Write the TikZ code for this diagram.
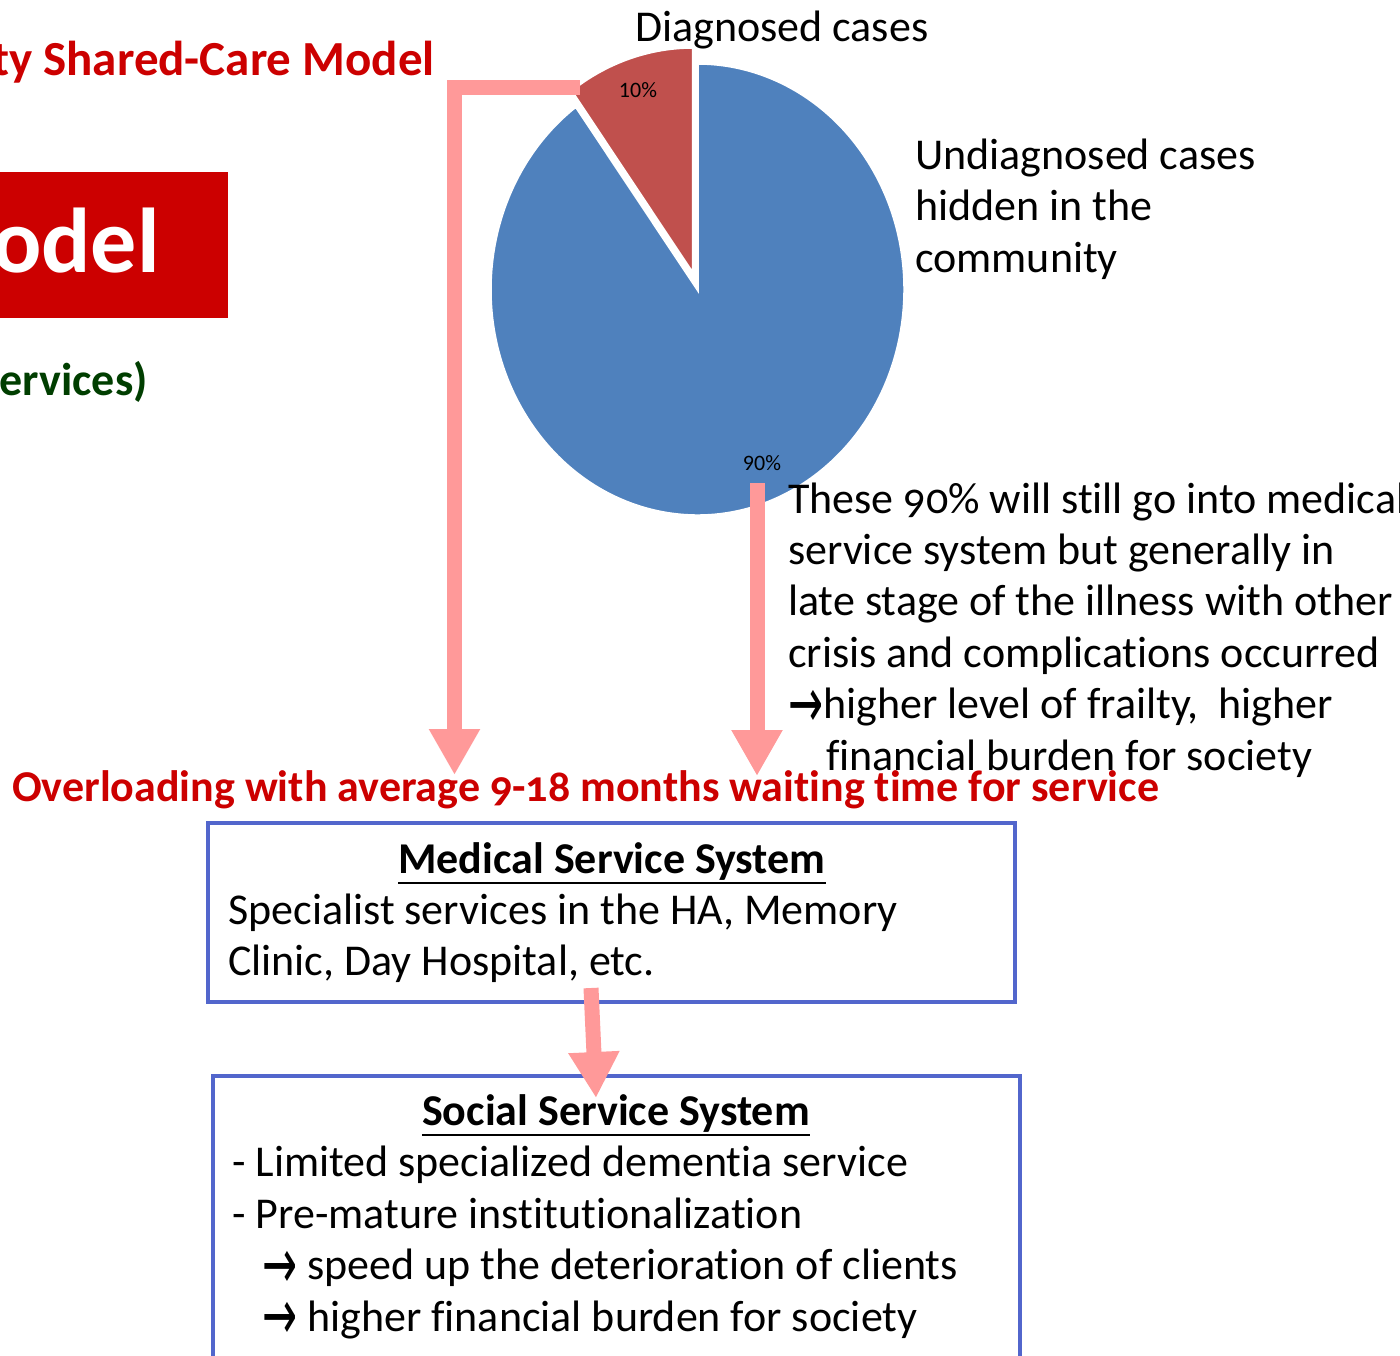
\documentclass[tikz,border=0pt]{standalone}
\usepackage{fontspec}
\setmainfont{Carlito}[Ligatures=NoCommon]
\newfontfamily\arrowfont{DejaVu Sans}
\usetikzlibrary{arrows.meta}
\definecolor{titlered}{RGB}{204,0,0}
\definecolor{darkgreen}{RGB}{0,62,0}
\definecolor{pieblue}{RGB}{79,129,189}
\definecolor{piered}{RGB}{192,80,77}
\definecolor{pinkarrow}{RGB}{255,153,153}
\definecolor{boxblue}{RGB}{82,102,204}
\newcommand{\thickarrow}{\raisebox{-0.2em}{\scalebox{0.95}[1.6]{\arrowfont →}}}
\begin{document}
\begin{tikzpicture}[x=1pt,y=-1pt,
  body/.style={font=\fontsize{44}{51.5}\selectfont, inner sep=0pt, anchor=base west, align=left},
  bodytitle/.style={font=\bfseries\fontsize{44}{51.5}\selectfont, inner sep=0pt, anchor=base},
  pct/.style={font=\fontsize{22}{26}\selectfont, inner sep=0pt, anchor=base},
  sysbox/.style={draw=boxblue, line width=4pt, inner sep=0pt, fill=none},
  flow/.style={draw=pinkarrow, line width=15pt, line join=miter, -{Triangle[width=48pt,length=46pt]}},
  ulinestyle/.style={line width=2.5pt}
]
\useasboundingbox (0,0) rectangle (1400,1355);
\clip (0,0) rectangle (1400,1355);

% left partial slide content
\node[font=\bfseries\fontsize{49}{58}\selectfont, text=titlered, inner sep=0pt, anchor=base east] (title) at (435,75) {ty Shared-Care Model};
\fill[titlered] (-10,172) rectangle (228,318);
\node[font=\bfseries\fontsize{92}{110}\selectfont, text=white, inner sep=0pt, anchor=base east] (model) at (160,272) {odel};
\node[font=\bfseries\fontsize{46}{55}\selectfont, text=darkgreen, inner sep=0pt, anchor=base east] (services) at (148,395) {ervices)};

% pie chart
\fill[pieblue, draw=white, line width=2.5pt] (697.5,289.5) -- ++(126:207pt and 226pt)
  arc[start angle=126, end angle=450, x radius=207pt, y radius=226pt] -- cycle;
\fill[piered, draw=white, line width=2.5pt] (693,273.5) -- ++(90:207pt and 226pt)
  arc[start angle=90, end angle=126, x radius=207pt, y radius=226pt] -- cycle;
\node[pct] (p10) at (638,97) {10\%};
\node[pct] (p90) at (762,470) {90\%};

% (multi-line nodes: base anchor is the baseline of the last line)
\node[body] (diag) at (635,41) {Diagnosed cases};
\node[body] (undiag) at (915,272) {Undiagnosed cases\\hidden in the\\community};

\node[body, font=\fontsize{44}{51.4}\selectfont\addfontfeatures{Numbers=OldStyle}] (late) at (788,770) {These 90\% will still go into medical\\service system but generally in\\late stage of the illness with other\\crisis and complications occurred\\\thickarrow higher level of frailty,\ \ higher\\\hspace*{38pt}financial burden for society};

\node[font=\bfseries\fontsize{44}{51}\selectfont\addfontfeatures{Numbers=OldStyle}, text=titlered, inner sep=0pt, anchor=base west] (overload) at (12,801) {Overloading with average 9-18 months waiting time for service};

% medical box
\node[sysbox, minimum width=807pt, minimum height=179pt] (med) at (611.5,912.5) {};
\node[bodytitle] (medtitle) at (612,873) {Medical Service System};
\draw[ulinestyle] ([yshift=-10pt]medtitle.base west) -- ([yshift=-10pt]medtitle.base east);
\node[body] (medtext) at (228,975.5) {Specialist services in the HA, Memory\\Clinic, Day Hospital, etc.};

% social box
\node[sysbox, minimum width=807pt, minimum height=330pt] (soc) at (616.5,1241) {};
\node[bodytitle] (soctitle) at (616,1125) {Social Service System};
\draw[ulinestyle] ([yshift=-10pt]soctitle.base west) -- ([yshift=-10pt]soctitle.base east);
\node[body] (soctext) at (232,1331) {- Limited specialized dementia service\\- Pre-mature institutionalization\\\hspace*{30pt}\thickarrow{} speed up the deterioration of clients\\\hspace*{30pt}\thickarrow{} higher financial burden for society};

% connectors
\coordinate (redcorner) at (580,87.5);
\coordinate (leftend) at (454.5,775);
\coordinate (rightstart) at (757,483);
\coordinate (rightend) at (757,776);
\coordinate (midstart) at (591,988);
\coordinate (midend) at (596,1098);
\draw[flow] (redcorner) -- (redcorner -| leftend) -- (leftend);
\draw[flow] (rightstart) -- (rightend);
\draw[flow] (midstart) -- (midend);
\end{tikzpicture}
\end{document}
